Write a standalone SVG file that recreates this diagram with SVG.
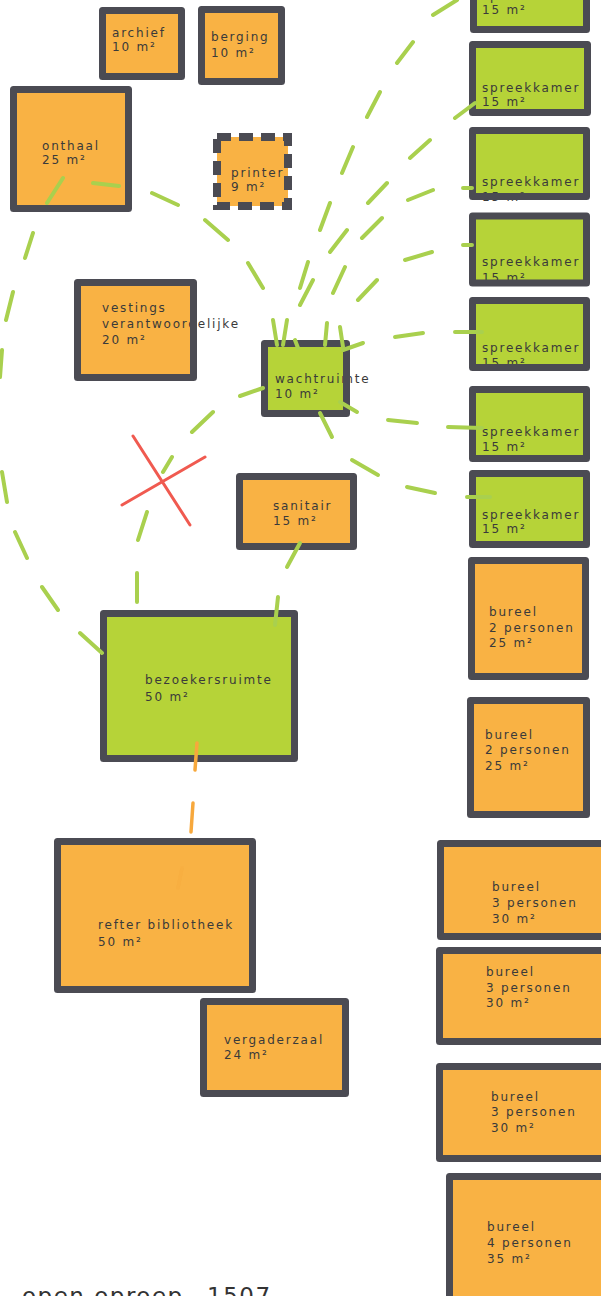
<svg xmlns="http://www.w3.org/2000/svg" width="601" height="1296" viewBox="0 0 601 1296">
<style>
.o{fill:#f9b244}
.g{fill:#b6d338}
.b{fill:none;stroke:#4b4b53;stroke-width:7;stroke-linejoin:round}
.pd{fill:none;stroke:#4b4b53;stroke-width:8;stroke-dasharray:14 8}
.t{font-family:"DejaVu Sans",sans-serif;font-size:12px;fill:#3a3a3a;letter-spacing:1.8px}
.c{fill:none;stroke:#a9d04e;stroke-width:4;stroke-linecap:round}
.co{fill:none;stroke:#f7a83c;stroke-width:3.5;stroke-linecap:round}
.x{fill:none;stroke:#f05a50;stroke-width:3;stroke-linecap:round}
.big{font-family:"DejaVu Sans",sans-serif;font-size:23px;fill:#333;letter-spacing:1.5px}
</style>
<rect width="601" height="1296" fill="#ffffff"/>
<g id="archief"><rect class="o" x="102.5" y="10.5" width="79" height="66"/><text class="t" x="112" y="37">archief</text><text class="t" x="112" y="51">10 m²</text><rect class="b" x="102.5" y="10.5" width="79" height="66"/></g>
<g id="berging"><rect class="o" x="201.5" y="9.5" width="80" height="72"/><text class="t" x="211" y="41">berging</text><text class="t" x="211" y="57">10 m²</text><rect class="b" x="201.5" y="9.5" width="80" height="72"/></g>
<g id="onthaal"><rect class="o" x="13.5" y="89.5" width="115" height="119"/><text class="t" x="42" y="150">onthaal</text><text class="t" x="42" y="164">25 m²</text><rect class="b" x="13.5" y="89.5" width="115" height="119"/></g>
<g id="printer"><rect class="o" x="217" y="137" width="71" height="69"/><text class="t" x="231" y="177">printer</text><text class="t" x="231" y="191">9 m²</text><rect class="pd" x="217" y="137" width="71" height="69"/></g>
<g id="vestingsverantwoordelijke"><rect class="o" x="77.5" y="282.5" width="116" height="95"/><text class="t" x="102" y="312">vestings</text><text class="t" x="102" y="328">verantwoordelijke</text><text class="t" x="102" y="344">20 m²</text><rect class="b" x="77.5" y="282.5" width="116" height="95"/></g>
<g id="wachtruimte"><rect class="g" x="264.5" y="343.5" width="82" height="70"/><text class="t" x="275" y="383">wachtruimte</text><text class="t" x="275" y="398">10 m²</text><rect class="b" x="264.5" y="343.5" width="82" height="70"/></g>
<g id="sanitair"><rect class="o" x="239.5" y="476.5" width="114" height="70"/><text class="t" x="273" y="510">sanitair</text><text class="t" x="273" y="525">15 m²</text><rect class="b" x="239.5" y="476.5" width="114" height="70"/></g>
<g id="bezoekersruimte"><rect class="g" x="103.5" y="613.5" width="191" height="145"/><text class="t" x="145" y="684">bezoekersruimte</text><text class="t" x="145" y="701">50 m²</text><rect class="b" x="103.5" y="613.5" width="191" height="145"/></g>
<g id="refter"><rect class="o" x="57.5" y="841.5" width="195" height="148"/><text class="t" x="98" y="929">refter bibliotheek</text><text class="t" x="98" y="946">50 m²</text><rect class="b" x="57.5" y="841.5" width="195" height="148"/></g>
<g id="vergaderzaal"><rect class="o" x="203.5" y="1001.5" width="142" height="92"/><text class="t" x="224" y="1044">vergaderzaal</text><text class="t" x="224" y="1059">24 m²</text><rect class="b" x="203.5" y="1001.5" width="142" height="92"/></g>
<g id="spreekkamer1"><rect class="g" x="473.5" y="-10" width="113" height="39.5"/><text class="t" x="482" y="0">spreekkamer</text><text class="t" x="482" y="14">15 m²</text><rect class="b" x="473.5" y="-10" width="113" height="39.5"/></g>
<g id="spreekkamer2"><rect class="g" x="472.5" y="44.5" width="115" height="68"/><text class="t" x="482" y="92">spreekkamer</text><text class="t" x="482" y="106">15 m²</text><rect class="b" x="472.5" y="44.5" width="115" height="68"/></g>
<g id="spreekkamer3"><rect class="g" x="472.5" y="130.5" width="114" height="66"/><text class="t" x="482" y="186">spreekkamer</text><text class="t" x="482" y="201">15 m²</text><rect class="b" x="472.5" y="130.5" width="114" height="66"/></g>
<g id="spreekkamer4"><rect class="g" x="472.5" y="216" width="114" height="67"/><text class="t" x="482" y="266">spreekkamer</text><text class="t" x="482" y="282">15 m²</text><rect class="b" x="472.5" y="216" width="114" height="67"/></g>
<g id="spreekkamer5"><rect class="g" x="472.5" y="300.5" width="114" height="67"/><text class="t" x="482" y="352">spreekkamer</text><text class="t" x="482" y="367">15 m²</text><rect class="b" x="472.5" y="300.5" width="114" height="67"/></g>
<g id="spreekkamer6"><rect class="g" x="472.5" y="389.5" width="114" height="69"/><text class="t" x="482" y="436">spreekkamer</text><text class="t" x="482" y="451">15 m²</text><rect class="b" x="472.5" y="389.5" width="114" height="69"/></g>
<g id="spreekkamer7"><rect class="g" x="472.5" y="473.5" width="114" height="71"/><text class="t" x="482" y="519">spreekkamer</text><text class="t" x="482" y="533">15 m²</text><rect class="b" x="472.5" y="473.5" width="114" height="71"/></g>
<g id="bureel2a"><rect class="o" x="471.5" y="560.5" width="114" height="116"/><text class="t" x="489" y="616">bureel</text><text class="t" x="489" y="632">2 personen</text><text class="t" x="489" y="647">25 m²</text><rect class="b" x="471.5" y="560.5" width="114" height="116"/></g>
<g id="bureel2b"><rect class="o" x="470.5" y="700.5" width="116" height="114"/><text class="t" x="485" y="739">bureel</text><text class="t" x="485" y="754">2 personen</text><text class="t" x="485" y="770">25 m²</text><rect class="b" x="470.5" y="700.5" width="116" height="114"/></g>
<g id="bureel3a"><rect class="o" x="440.5" y="843.5" width="170" height="93"/><text class="t" x="492" y="891">bureel</text><text class="t" x="492" y="907">3 personen</text><text class="t" x="492" y="923">30 m²</text><rect class="b" x="440.5" y="843.5" width="170" height="93"/></g>
<g id="bureel3b"><rect class="o" x="439.5" y="950.5" width="170" height="91"/><text class="t" x="486" y="976">bureel</text><text class="t" x="486" y="992">3 personen</text><text class="t" x="486" y="1007">30 m²</text><rect class="b" x="439.5" y="950.5" width="170" height="91"/></g>
<g id="bureel3c"><rect class="o" x="439.5" y="1066.5" width="170" height="92"/><text class="t" x="491" y="1101">bureel</text><text class="t" x="491" y="1116">3 personen</text><text class="t" x="491" y="1132">30 m²</text><rect class="b" x="439.5" y="1066.5" width="170" height="92"/></g>
<g id="bureel4"><rect class="o" x="449.5" y="1176.5" width="160" height="130"/><text class="t" x="487" y="1231">bureel</text><text class="t" x="487" y="1247">4 personen</text><text class="t" x="487" y="1263">35 m²</text><rect class="b" x="449.5" y="1176.5" width="160" height="130"/></g>
<g id="connectors">
<path class="c" d="M63,178 L47,203 M33,233 L25,258 M13,292 L6,320 M2,350 L0,377 M2,472 L7,502 M15,532 L27,558 M42,587 L58,610 M80,633 L102,653"/>
<path class="c" d="M93,183 L119,186 M152,193 L178,205 M205,220 L228,240 M248,263 L263,288 M273,320 L277,345"/>
<path class="c" d="M283,345 L287,320 M300,288 L308,262 M320,230 L330,203 M342,173 L353,147 M367,117 L380,92 M397,63 L413,42 M433,15 L457,0"/>
<path class="c" d="M295,340 L298,348 M300,305 L313,280 M330,252 L347,230 M368,203 L387,183 M410,158 L430,140 M455,118 L475,103"/>
<path class="c" d="M325,345 L327,323 M333,293 L345,267 M362,238 L382,218 M408,200 L433,190 M463,188 L472,188"/>
<path class="c" d="M343,347 L340,327 M358,300 L377,280 M405,260 L432,252 M463,245 L472,245"/>
<path class="c" d="M343,350 L363,343 M395,337 L423,333 M455,332 L482,332"/>
<path class="c" d="M340,402 L357,412 M388,420 L417,423 M448,427 L482,428"/>
<path class="c" d="M320,413 L332,437 M352,460 L378,475 M407,487 L435,493 M467,497 L490,497"/>
<path class="c" d="M263,388 L240,396 M213,412 L192,432 M172,457 L163,472 M147,512 L138,540 M137,573 L137,602"/>
<path class="c" d="M300,543 L287,567 M278,597 L275,625"/>
<path class="co" d="M197,743 L195,770 M193,803 L191,832"/>
<path class="co" d="M182,868 L178,888" opacity="0.35"/>
<path class="x" d="M122,505 L205,457 M133,436 L190,525"/>
</g>
<text class="big" x="22" y="1304">open oproep</text>
<text class="big" x="207" y="1304">1507</text>
</svg>
